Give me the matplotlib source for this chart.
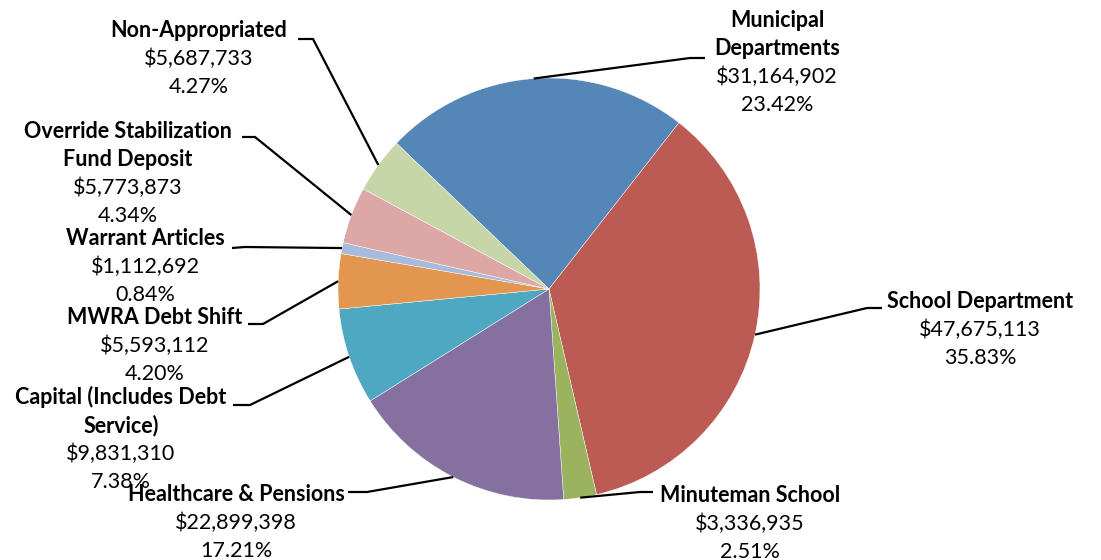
import matplotlib.pyplot as plt
import numpy as np

plt.rcParams['font.family'] = ['Lato', 'DejaVu Sans']

# budget data
categories = ["Municipal\nDepartments", "School Department", "Minuteman School",
              "Healthcare & Pensions", "Capital (Includes Debt\nService)",
              "MWRA Debt Shift", "Warrant Articles",
              "Override Stabilization\nFund Deposit", "Non-Appropriated"]
amounts = [31164902, 47675113, 3336935, 22899398, 9831310,
           5593112, 1112692, 5773873, 5687733]
pct_labels = ["23.42%", "35.83%", "2.51%", "17.21%", "7.38%",
              "4.20%", "0.84%", "4.34%", "4.27%"]
colors = ["#5586B8", "#BC5B53", "#9BB25F", "#8670A0", "#4FA8C1",
          "#E3964F", "#A7BBDD", "#DDA7A6", "#C6D6A8"]

W, H = 1101, 560
fig = plt.figure(figsize=(W / 100, H / 100), dpi=100)
ax = fig.add_axes([0, 0, 1, 1])


def Y(py):
    return H - py


cx, cy, r = 549, Y(289), 211
wedges, _ = ax.pie(amounts, colors=colors, startangle=136.3, counterclock=False,
                   center=(cx, cy), radius=r, frame=True,
                   wedgeprops=dict(edgecolor="white", linewidth=0.3))
ax.set_xlim(0, W)
ax.set_ylim(0, H)
ax.set_aspect("auto")
ax.axis("off")

# label layout (pixels): text center x, first baseline y, elbow, line end
layout = [
    (777, 27, (690, 58), (705, 58)),
    (980, 308, (867, 308), (882, 308)),
    (750, 502, (640, 492), (653, 492)),
    (236, 501, (367, 492), (348, 492)),
    (121, 404, (250, 405), (233, 405)),
    (155, 324, (263, 324), (248, 324)),
    (145, 245, (245, 247), (232, 248)),
    (128, 138, (255, 137), (242, 137)),
    (199, 37, (313, 39), (298, 39)),
]
step = 28
fs = 15.5

for w, name, amt, pct, (tx, ty, elbow, end) in zip(wedges, categories, amounts,
                                                    pct_labels, layout):
    mid = np.deg2rad((w.theta1 + w.theta2) / 2)
    ex, ey = cx + r * np.cos(mid), cy + r * np.sin(mid)
    ax.plot([ex, elbow[0], end[0]], [ey, Y(elbow[1]), Y(end[1])],
            color="black", lw=1.6, solid_capstyle="butt", zorder=3)
    lines = name.split("\n")
    y = ty
    for ln in lines:
        ax.text(tx, Y(y), ln, ha="center", va="baseline", fontsize=fs,
                fontweight="bold", color="black")
        y += step
    ax.text(tx, Y(y), f"${amt:,}", ha="center", va="baseline", fontsize=fs,
            color="black")
    y += step
    ax.text(tx, Y(y), pct, ha="center", va="baseline", fontsize=fs,
            color="black")

fig.savefig("out.png", dpi=100)
